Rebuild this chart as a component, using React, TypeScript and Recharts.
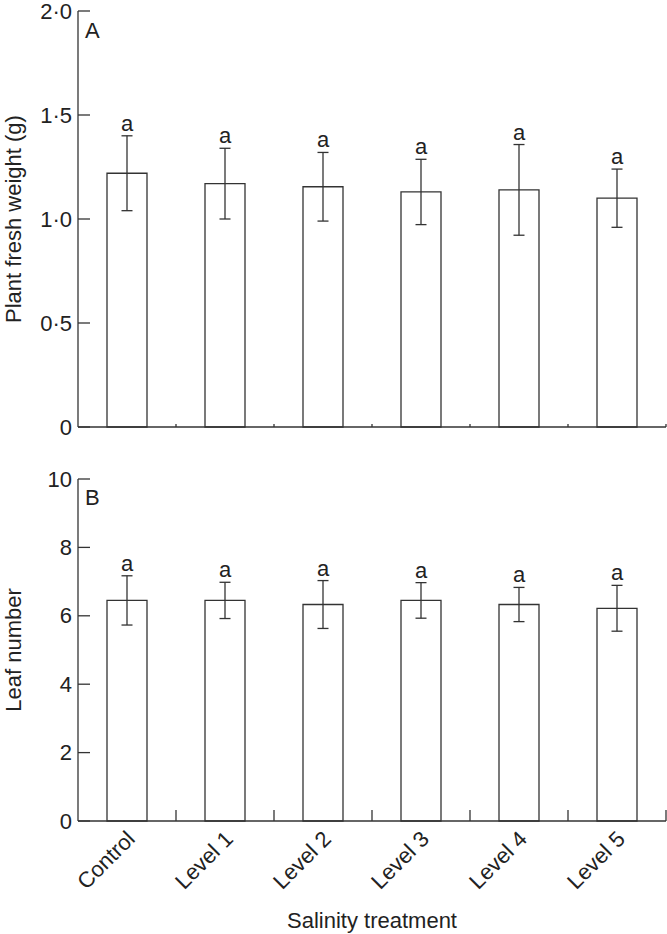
import {
  ComposedChart,
  Bar,
  Line,
  XAxis,
  YAxis,
  ErrorBar,
  LabelList,
} from "recharts";

const categories = ["Control", "Level 1", "Level 2", "Level 3", "Level 4", "Level 5"];
const freshWeight = [1.22, 1.17, 1.155, 1.13, 1.14, 1.1];
const freshWeightErr = [0.18, 0.17, 0.165, 0.157, 0.218, 0.14];
const leafNumber = [6.45, 6.45, 6.33, 6.45, 6.33, 6.22];
const leafNumberErr = [0.72, 0.53, 0.7, 0.52, 0.5, 0.67];
const sigLetters = ["a", "a", "a", "a", "a", "a"];
const weightTicks = [0, 0.5, 1, 1.5, 2];
const leafTicks = [0, 2, 4, 6, 8, 10];

const FONT = '"Liberation Sans", Arial, Helvetica, sans-serif';
const FS = 22;
const INK = "#333";
const TEXT = "#222";

const weightData = categories.map((name, i) => ({
  name,
  mean: freshWeight[i],
  err: freshWeightErr[i],
  top: freshWeight[i] + freshWeightErr[i],
  sig: sigLetters[i],
}));

const leafData = categories.map((name, i) => ({
  name,
  mean: leafNumber[i],
  err: leafNumberErr[i],
  top: leafNumber[i] + leafNumberErr[i],
  sig: sigLetters[i],
}));

// "1.5" -> "1·5" as in the journal style
const dotFmt = (v: number) => (v === 0 ? "0" : v.toFixed(1).replace(".", "\u00b7"));

function YTitle(props: any) {
  const vb = props.viewBox || {};
  const cx = 13;
  const cy = vb.y + vb.height / 2;
  return (
    <text
      x={cx}
      y={cy}
      transform={`rotate(-90 ${cx} ${cy})`}
      textAnchor="middle"
      dominantBaseline="central"
      fontSize={FS}
      fontFamily={FONT}
      fill={TEXT}
    >
      {props.value}
    </text>
  );
}

// y tick: short inward line + label outside the axis
function YTick(props: any) {
  const { x, y, payload, fmt } = props;
  const ax = x + 6;
  return (
    <g>
      <line x1={ax} x2={ax + 12} y1={y} y2={y} stroke={INK} strokeWidth={1.3} />
      <text
        x={x}
        y={y}
        textAnchor="end"
        dominantBaseline="central"
        fontSize={FS}
        fontFamily={FONT}
        fill={TEXT}
      >
        {fmt(payload.value)}
      </text>
    </g>
  );
}

// x tick: rotated category label, plus an inward mark at the right edge of the band
function XTick(props: any) {
  const { x, y, payload, width, visibleTicksCount, len, showText } = props;
  const band = (width || 588) / (visibleTicksCount || 6);
  const axisY = y - 8;
  const edge = x + band / 2;
  return (
    <g>
      <line x1={edge} x2={edge} y1={axisY} y2={axisY - len} stroke={INK} strokeWidth={1.3} />
      {showText && (
        <text
          x={x + 4}
          y={y + 6}
          transform={`rotate(-45 ${x + 4} ${y + 6})`}
          textAnchor="end"
          dominantBaseline="central"
          fontSize={FS}
          fontFamily={FONT}
          fill={TEXT}
        >
          {payload.value}
        </text>
      )}
    </g>
  );
}

function SigLabel(props: any) {
  const { x, y, value } = props;
  return (
    <text x={x} y={y - 5} textAnchor="middle" fontSize={FS} fontFamily={FONT} fill={TEXT}>
      {value}
    </text>
  );
}

type PanelProps = {
  data: typeof weightData;
  height: number;
  top: number;
  marginTop: number;
  domain: [number, number];
  ticks: number[];
  fmt: (v: number) => string;
  yTitle: string;
  showLabels: boolean;
  edgeTickSize: number;
  catHeight: number;
};

function Panel(p: PanelProps) {
  return (
    <div style={{ position: "absolute", left: 0, top: p.top }}>
      <ComposedChart
        width={667}
        height={p.height}
        data={p.data}
        margin={{ top: p.marginTop, right: 1, left: 0, bottom: 0 }}
      >
        <XAxis
          dataKey="name"
          height={p.catHeight}
          tickLine={false}
          tickSize={6}
          tickMargin={2}
          axisLine={{ stroke: INK, strokeWidth: 1.3 }}
          interval={0}
          tick={<XTick len={p.edgeTickSize} showText={p.showLabels} />}
          label={
            p.showLabels
              ? {
                  value: "Salinity treatment",
                  position: "insideBottom",
                  offset: 6,
                  fill: TEXT,
                  fontSize: FS,
                  fontFamily: FONT,
                }
              : undefined
          }
        />
        <YAxis
          width={78}
          domain={p.domain}
          ticks={p.ticks}
          interval={0}
          tickSize={0}
          tickMargin={6}
          tickLine={false}
          axisLine={{ stroke: INK, strokeWidth: 1.3 }}
          tick={<YTick fmt={p.fmt} />}
          label={<YTitle value={p.yTitle} />}
        />
        <Bar
          dataKey="mean"
          barSize={40}
          fill="#fff"
          stroke={INK}
          strokeWidth={1.3}
          isAnimationActive={false}
        >
          <ErrorBar
            dataKey="err"
            direction="y"
            width={5.5}
            stroke={INK}
            strokeWidth={1.3}
          />
        </Bar>
        <Line
          dataKey="top"
          stroke="none"
          dot={false}
          activeDot={false}
          isAnimationActive={false}
        >
          <LabelList dataKey="sig" content={<SigLabel />} />
        </Line>
      </ComposedChart>
    </div>
  );
}

export default function App() {
  return (
    <div style={{ position: "absolute", left: 0, top: 0, width: 667, height: 934, background: "#fff" }}>
      <Panel
        data={weightData}
        top={0}
        height={440}
        marginTop={11}
        domain={[0, 2]}
        ticks={weightTicks}
        fmt={dotFmt}
        yTitle="Plant fresh weight (g)"
        showLabels={false}
        edgeTickSize={3}
        catHeight={13}
      />
      <Panel
        data={leafData}
        top={440}
        height={494}
        marginTop={39}
        domain={[0, 10]}
        ticks={leafTicks}
        fmt={(v) => String(v)}
        yTitle="Leaf number"
        showLabels
        edgeTickSize={11}
        catHeight={113}
      />
      <svg
        width={667}
        height={934}
        style={{ position: "absolute", left: 0, top: 0, pointerEvents: "none" }}
      >
        <text x={85} y={38} fontSize={FS} fontFamily={FONT} fill={TEXT}>
          A
        </text>
        <text x={85} y={505} fontSize={FS} fontFamily={FONT} fill={TEXT}>
          B
        </text>
      </svg>
    </div>
  );
}
